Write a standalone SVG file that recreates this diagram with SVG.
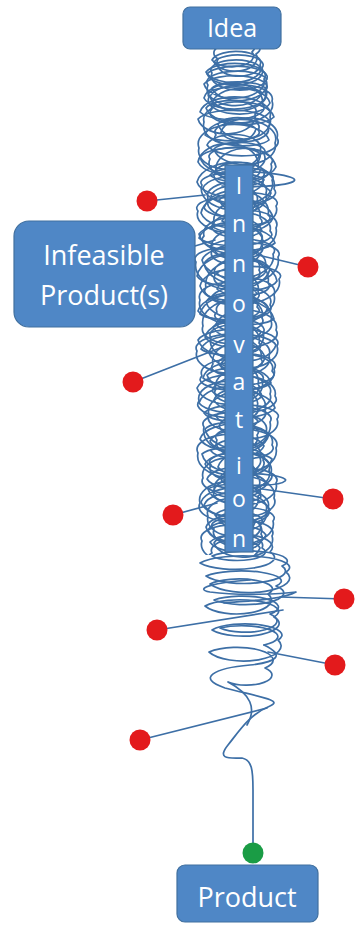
<svg xmlns="http://www.w3.org/2000/svg" xmlns:xlink="http://www.w3.org/1999/xlink" width="356" height="925" viewBox="0 0 356 925">
  <style>
    .wire { fill: none; stroke: #3d6fa6; stroke-width: 1.7; stroke-linecap: round; stroke-linejoin: round; }
    .box { fill: #4f87c6; stroke: #41709f; stroke-width: 1.2; }
    .lbl { fill: #ffffff; font-family: "Open Sans", "Noto Sans", sans-serif; text-anchor: middle; }
    .fail { fill: #e31a1c; }
    .done { fill: #1a9c45; }
  </style>
  <defs>
    <clipPath id="upper">
      <rect x="0" y="40" width="356" height="510"/>
    </clipPath>
    <!-- main coil: half-ellipse arcs swinging left and right as it descends -->
    <path id="coil" class="wire" d="M236 42
      A1 .6 0 0 1 256 54 A1 .6 0 0 1 214 62 A1 .4 0 0 1 262 68 A1 .5 0 0 1 207 74
      A1 .35 0 0 1 266 80 A1 .6 0 0 1 212 88 A1 .3 0 0 1 265 92 A1 .45 0 0 1 204 98
      A1 .6 0 0 1 262 104 A1 .35 0 0 1 200 112 A1 .5 0 0 1 270 117 A1 .7 0 0 1 218 124
      A1 .45 0 0 1 258 130 A1 .3 0 0 1 205 135 A1 .55 0 0 1 275 143 A1 .6 0 0 1 214 149
      A1 .35 0 0 1 264 154 A1 .5 0 0 1 198 162 A1 .7 0 0 1 258 167 A1 .4 0 0 1 210 175
      A1 .3 0 0 1 272 180 A1 .6 0 0 1 203 188 A1 .45 0 0 1 266 193 A1 .65 0 0 1 219 200
      A1 .35 0 0 1 276 206 A1 .5 0 0 1 201 213 A1 .7 0 0 1 260 218 A1 .4 0 0 1 212 226
      A1 .55 0 0 1 270 231 A1 .3 0 0 1 199 238 A1 .6 0 0 1 262 246 A1 .45 0 0 1 215 251
      A1 .35 0 0 1 278 257 A1 .65 0 0 1 204 264 A1 .5 0 0 1 259 270 A1 .4 0 0 1 197 276
      A1 .7 0 0 1 268 283 A1 .35 0 0 1 217 289 A1 .5 0 0 1 274 295 A1 .6 0 0 1 206 302
      A1 .45 0 0 1 257 307 A1 .3 0 0 1 200 314 A1 .65 0 0 1 271 321 A1 .5 0 0 1 213 327
      A1 .4 0 0 1 263 333 A1 .6 0 0 1 198 340 A1 .35 0 0 1 277 346 A1 .55 0 0 1 209 353
      A1 .7 0 0 1 261 359 A1 .4 0 0 1 220 365 A1 .5 0 0 1 272 371 A1 .3 0 0 1 203 378
      A1 .65 0 0 1 258 384 A1 .45 0 0 1 212 391 A1 .55 0 0 1 275 396 A1 .35 0 0 1 199 403
      A1 .6 0 0 1 265 410 A1 .5 0 0 1 216 416 A1 .4 0 0 1 270 422 A1 .7 0 0 1 205 429
      A1 .35 0 0 1 257 435 A1 .55 0 0 1 210 441 A1 .45 0 0 1 276 448 A1 .6 0 0 1 202 454
      A1 .3 0 0 1 263 460 A1 .5 0 0 1 218 467 A1 .65 0 0 1 271 473 A1 .4 0 0 1 207 479
      A1 .55 0 0 1 259 486 A1 .35 0 0 1 213 492 A1 .6 0 0 1 274 498 A1 .45 0 0 1 204 505
      A1 .5 0 0 1 266 511 A1 .7 0 0 1 219 517 A1 .35 0 0 1 260 524 A1 .55 0 0 1 208 530
      A1 .4 0 0 1 272 536 A1 .6 0 0 1 214 543 A1 .45 0 0 1 262 548
      A1 .3 0 0 1 212 556 A1 .25 0 0 1 282 566 A1 .3 0 0 1 206 576 A1 .25 0 0 1 276 586
      A1 .3 0 0 1 214 600 A1 .3 0 0 1 270 614 A1 .35 0 0 1 220 628 A1 .3 0 0 1 264 645"/>
  </defs>

  <g id="scribble">
    <use xlink:href="#coil" href="#coil" transform="translate(474,5) scale(-1,1)" clip-path="url(#upper)"/>
    <use xlink:href="#coil" href="#coil"/>
    <!-- second strand, looser and out of step with the main coil -->
    <path class="wire" d="M228 42
      A1 .6 0 0 1 252 52 A1 .5 0 0 1 212 60 A1 .45 0 0 1 260 65 A1 .5 0 0 1 206 72
      A1 .4 0 0 1 264 79 A1 .55 0 0 1 204 84 A1 .35 0 0 1 266 90 A1 .6 0 0 1 210 97
      A1 .45 0 0 1 272 101 A1 .55 0 0 1 206 108 A1 .4 0 0 1 255 114 A1 .6 0 0 1 198 119
      A1 .35 0 0 1 268 127 A1 .5 0 0 1 221 132 A1 .6 0 0 1 277 138 A1 .4 0 0 1 207 145
      A1 .5 0 0 1 260 151 A1 .65 0 0 1 200 157 A1 .35 0 0 1 271 164 A1 .55 0 0 1 216 170
      A1 .45 0 0 1 263 177 A1 .5 0 0 1 197 182 A1 .6 0 0 1 274 189 A1 .35 0 0 1 211 196
      A1 .55 0 0 1 257 201 A1 .45 0 0 1 204 208 A1 .65 0 0 1 268 215 A1 .3 0 0 1 222 221
      A1 .5 0 0 1 276 228 A1 .6 0 0 1 199 234 A1 .4 0 0 1 261 241 A1 .55 0 0 1 210 247
      A1 .35 0 0 1 273 254 A1 .6 0 0 1 202 260 A1 .5 0 0 1 265 266 A1 .45 0 0 1 217 273
      A1 .3 0 0 1 279 279 A1 .55 0 0 1 200 286 A1 .65 0 0 1 258 292 A1 .4 0 0 1 211 298
      A1 .5 0 0 1 270 305 A1 .35 0 0 1 198 311 A1 .6 0 0 1 262 318 A1 .45 0 0 1 216 324
      A1 .55 0 0 1 276 330 A1 .4 0 0 1 205 337 A1 .65 0 0 1 259 343 A1 .3 0 0 1 201 349
      A1 .5 0 0 1 269 356 A1 .6 0 0 1 218 362 A1 .4 0 0 1 274 369 A1 .55 0 0 1 207 375
      A1 .35 0 0 1 262 381 A1 .6 0 0 1 197 388 A1 .45 0 0 1 270 394 A1 .5 0 0 1 214 400
      A1 .65 0 0 1 257 407 A1 .4 0 0 1 204 413 A1 .3 0 0 1 277 419 A1 .55 0 0 1 219 426
      A1 .6 0 0 1 266 432 A1 .45 0 0 1 200 439 A1 .5 0 0 1 272 445 A1 .35 0 0 1 211 451
      A1 .6 0 0 1 260 458 A1 .5 0 0 1 205 464 A1 .45 0 0 1 269 470 A1 .65 0 0 1 220 477
      A1 .4 0 0 1 276 483 A1 .55 0 0 1 208 489 A1 .3 0 0 1 258 496 A1 .6 0 0 1 201 502
      A1 .5 0 0 1 268 508 A1 .45 0 0 1 215 515 A1 .35 0 0 1 273 521 A1 .6 0 0 1 206 527
      A1 .55 0 0 1 261 534 A1 .5 0 0 1 210 542 A1 .4 0 0 1 270 552 A1 .3 0 0 1 200 563
      A1 .25 0 0 1 286 572 A1 .35 0 0 1 210 584 A1 .3 0 0 1 268 594 A1 .4 0 0 1 205 606
      A1 .3 0 0 1 274 617 A1 .35 0 0 1 212 630 A1 .3 0 0 1 278 640 A1 .4 0 0 1 209 652
      A1 .35 0 0 1 265 668 A1 .4 0 0 1 228 682 Q262 700 247 725"/>
    <!-- stray loops that swing out of the coil -->
    <path class="wire" d="M222 172 C260 170 300 176 294 181 C288 186 250 188 222 186"/>
    <path class="wire" d="M232 474 C262 472 290 477 285 481 C280 486 252 486 232 484"/>
    <path class="wire" d="M250 580 C215 582 192 589 210 592 C240 596 282 594 296 592 C282 600 242 601 224 603"/>
    <!-- tail settling into the finished product -->
    <path class="wire" d="M264 645 C285 655 278 662 250 665 C215 668 195 678 225 688 C255 696 285 700 270 706 C250 714 240 730 228 745 C216 760 230 758 242 758 C252 760 253 770 253 790 L253 852"/>
  </g>

  <g id="connectors">
    <path class="wire" d="M147 201 L205 195"/>
    <path class="wire" d="M308 267 L258 255"/>
    <path class="wire" d="M133 382 L220 348"/>
    <path class="wire" d="M195 246 L215 240"/>
    <path class="wire" d="M173 515 L217 503"/>
    <path class="wire" d="M333 499 L262 489"/>
    <path class="wire" d="M344 599 L280 597"/>
    <path class="wire" d="M157 630 L283 610"/>
    <path class="wire" d="M335 665 L268 652"/>
    <path class="wire" d="M140 740 L267 708"/>
  </g>

  <g id="idea">
    <rect class="box" x="183" y="7" width="98" height="42" rx="7"/>
    <text class="lbl" x="232" y="37" font-size="25">Idea</text>
  </g>

  <g id="innovation">
    <rect class="box" x="225" y="165" width="28" height="387"/>
    <g class="lbl" font-size="23">
      <text x="239" y="194">I</text>
      <text x="239" y="232">n</text>
      <text x="239" y="272">n</text>
      <text x="239" y="312">o</text>
      <text x="239" y="353">v</text>
      <text x="239" y="390">a</text>
      <text x="239" y="428">t</text>
      <text x="239" y="474">i</text>
      <text x="239" y="507">o</text>
      <text x="239" y="547">n</text>
    </g>
  </g>

  <g id="infeasible">
    <rect class="box" x="14" y="221" width="181" height="106" rx="15"/>
    <text class="lbl" x="104" y="265" font-size="27">Infeasible</text>
    <text class="lbl" x="104" y="305" font-size="27">Product(s)</text>
  </g>

  <g id="dead-ends">
    <circle class="fail" cx="147" cy="201" r="10.5"/>
    <circle class="fail" cx="308" cy="267" r="10.5"/>
    <circle class="fail" cx="133" cy="382" r="10.5"/>
    <circle class="fail" cx="173" cy="515" r="10.5"/>
    <circle class="fail" cx="333" cy="499" r="10.5"/>
    <circle class="fail" cx="344" cy="599" r="10.5"/>
    <circle class="fail" cx="157" cy="630" r="10.5"/>
    <circle class="fail" cx="335" cy="665" r="10.5"/>
    <circle class="fail" cx="140" cy="740" r="10.5"/>
  </g>

  <g id="product">
    <circle class="done" cx="253" cy="853" r="10.5"/>
    <rect class="box" x="177" y="865" width="141" height="57" rx="8"/>
    <text class="lbl" x="247" y="907" font-size="27">Product</text>
  </g>
</svg>
